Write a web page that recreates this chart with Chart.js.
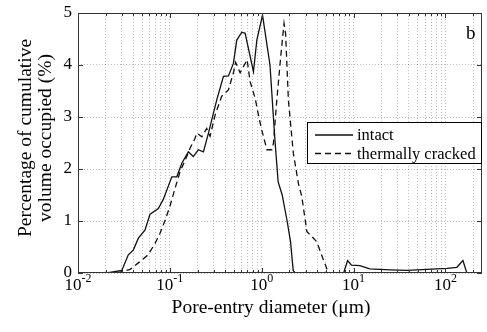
<!DOCTYPE html>
<html>
<head>
<meta charset="utf-8">
<script src="https://cdn.jsdelivr.net/npm/chart.js@4"></script>
<style>
  html, body { margin: 0; padding: 0; background: #fff; }
  #poreChart { display: block; }
</style>
</head>
<body>
<canvas id="poreChart" width="487" height="332"></canvas>
<script>
// pore-entry diameter (um) and percentage of cumulative volume
const intactDiam = [0.0206, 0.030, 0.0353, 0.040, 0.0454, 0.0537, 0.0608, 0.075, 0.085, 0.105, 0.119, 0.135, 0.159, 0.18, 0.204, 0.232, 0.263, 0.324, 0.383, 0.434, 0.492, 0.535, 0.607, 0.66, 0.813, 0.885, 1.02, 1.23, 1.34, 1.40, 1.51, 1.67, 1.89, 2.06, 2.20, 2.31, 7.8, 8.6, 9.5, 11.7, 15, 25, 38, 63, 104, 133, 155, 171];
const intactPct = [0, 0.05, 0.35, 0.44, 0.67, 0.83, 1.13, 1.24, 1.42, 1.85, 1.85, 2.11, 2.33, 2.24, 2.37, 2.33, 2.69, 3.33, 3.78, 3.79, 4.03, 4.48, 4.63, 4.61, 3.87, 4.48, 4.96, 4.0, 3.0, 2.5, 1.75, 1.5, 1.0, 0.6, 0.05, 0, 0, 0.24, 0.15, 0.14, 0.08, 0.06, 0.05, 0.07, 0.09, 0.11, 0.24, 0];

const crackedDiam = [0.0206, 0.025, 0.031, 0.037, 0.045, 0.058, 0.069, 0.078, 0.089, 0.1, 0.114, 0.129, 0.147, 0.166, 0.188, 0.196, 0.223, 0.252, 0.274, 0.311, 0.367, 0.434, 0.492, 0.52, 0.582, 0.66, 0.693, 0.748, 0.848, 0.921, 1.0, 1.09, 1.14, 1.29, 1.34, 1.46, 1.61, 1.75, 1.82, 1.95, 2.21, 2.51, 2.73, 3.10, 3.51, 3.98, 4.70, 5.33, 171];
const crackedPct = [0, 0, 0.03, 0.07, 0.19, 0.35, 0.57, 0.76, 1.02, 1.28, 1.63, 1.95, 2.17, 2.40, 2.59, 2.69, 2.62, 2.78, 2.63, 3.04, 3.40, 3.52, 3.85, 4.05, 3.85, 4.03, 4.10, 3.68, 3.36, 3.04, 2.75, 2.5, 2.37, 2.37, 2.49, 3.33, 4.16, 4.8, 4.6, 3.33, 2.3, 1.72, 1.47, 0.8, 0.70, 0.60, 0.25, 0, 0];

const seriesLabels = ['intact', 'thermally cracked'];
const xMin = 0.01, xMax = 250;
const xDecades = [-2, -1, 0, 1, 2];
const yTickValues = [0, 1, 2, 3, 4, 5];

const serif = '"Liberation Serif", "Times New Roman", serif';

// every 1..9 x 10^n inside the axis range, for the dotted grid
const xGridValues = [];
for (let e = -2; e <= 2; e++) {
  for (let m = 1; m <= 9; m++) {
    const v = m * Math.pow(10, e);
    if (v >= xMin && v <= xMax) xGridValues.push(+v.toPrecision(3));
  }
}

const toPoints = (xs, ys) => xs.map((x, i) => ({ x: x, y: ys[i] }));

const frame = {
  id: 'frame',
  afterDatasetsDraw(chart) {
    const { ctx, chartArea: a, scales } = chart;
    const xs = scales.x, ys = scales.y;
    ctx.save();

    // axes box
    ctx.strokeStyle = '#333';
    ctx.lineWidth = 1;
    ctx.setLineDash([]);
    ctx.strokeRect(a.left + 0.5, a.top + 0.5, a.right - a.left - 1, a.bottom - a.top - 1);

    // inward ticks on the x axis (top and bottom)
    ctx.beginPath();
    xGridValues.forEach(v => {
      const px = Math.round(xs.getPixelForValue(v)) + 0.5;
      const major = Math.abs(Math.log10(v) - Math.round(Math.log10(v))) < 1e-6;
      const len = major ? 5 : 3;
      ctx.moveTo(px, a.bottom); ctx.lineTo(px, a.bottom - len);
      ctx.moveTo(px, a.top); ctx.lineTo(px, a.top + len);
    });
    // inward ticks on the y axis (left and right)
    yTickValues.forEach(v => {
      const py = Math.round(ys.getPixelForValue(v)) + 0.5;
      ctx.moveTo(a.left, py); ctx.lineTo(a.left + 5, py);
      ctx.moveTo(a.right, py); ctx.lineTo(a.right - 5, py);
    });
    ctx.stroke();

    // y tick labels
    ctx.fillStyle = '#000';
    ctx.font = '17px ' + serif;
    ctx.textAlign = 'right';
    ctx.textBaseline = 'middle';
    yTickValues.forEach(v => {
      ctx.fillText(String(v), a.left - 6, ys.getPixelForValue(v));
    });

    // x tick labels: 10 with a raised exponent
    ctx.textBaseline = 'alphabetic';
    ctx.textAlign = 'left';
    xDecades.forEach(e => {
      const px = xs.getPixelForValue(Math.pow(10, e));
      ctx.font = '17px ' + serif;
      const wBase = ctx.measureText('10').width;
      ctx.font = '12px ' + serif;
      const exp = e < 0 ? '-' + Math.abs(e) : String(e);
      const wExp = ctx.measureText(exp).width;
      const x0 = px - (wBase + wExp) / 2;
      ctx.font = '17px ' + serif;
      ctx.fillText('10', x0, a.bottom + 17);
      ctx.font = '12px ' + serif;
      ctx.fillText(exp, x0 + wBase, a.bottom + 9);
    });

    // axis titles
    ctx.font = '19.5px ' + serif;
    ctx.textAlign = 'center';
    ctx.textBaseline = 'middle';
    ctx.fillText('Pore-entry diameter (\u03bcm)', (a.left + a.right) / 2 - 9, 308);

    ctx.save();
    ctx.translate(26, 138);
    ctx.rotate(-Math.PI / 2);
    ctx.fillText('Percentage of cumulative', 0, 0);
    ctx.restore();
    ctx.save();
    ctx.translate(46, 138);
    ctx.rotate(-Math.PI / 2);
    ctx.fillText('volume occupied (%)', 0, 0);
    ctx.restore();

    // panel letter
    ctx.font = '19px ' + serif;
    ctx.textAlign = 'left';
    ctx.textBaseline = 'alphabetic';
    ctx.fillText('b', 466, 39);

    // legend box
    const lx = 307, ly = 122, lw = a.right - lx, lh = 42;
    ctx.fillStyle = '#fff';
    ctx.fillRect(lx, ly, lw, lh);
    ctx.strokeStyle = '#000';
    ctx.lineWidth = 1;
    ctx.strokeRect(lx + 0.5, ly + 0.5, lw - 1, lh - 1);
    chart.data.datasets.forEach((ds, i) => {
      const cy = ly + 13 + i * 18.5;
      ctx.strokeStyle = ds.borderColor;
      ctx.lineWidth = ds.borderWidth;
      ctx.setLineDash(ds.borderDash || []);
      ctx.beginPath();
      ctx.moveTo(315, cy); ctx.lineTo(353, cy);
      ctx.stroke();
      ctx.setLineDash([]);
      ctx.fillStyle = '#000';
      ctx.font = '16.5px ' + serif;
      ctx.textBaseline = 'middle';
      ctx.fillText(ds.label, 357, cy + 1);
    });

    ctx.restore();
  }
};

new Chart(document.getElementById('poreChart'), {
  type: 'scatter',
  data: {
    datasets: [{
      label: seriesLabels[0],
      data: toPoints(intactDiam, intactPct),
      showLine: true,
      borderColor: '#111',
      borderWidth: 1.3,
      pointRadius: 0,
      tension: 0
    }, {
      label: seriesLabels[1],
      data: toPoints(crackedDiam, crackedPct),
      showLine: true,
      borderColor: '#111',
      borderWidth: 1.3,
      borderDash: [6, 4],
      pointRadius: 0,
      tension: 0
    }]
  },
  plugins: [frame],
  options: {
    responsive: false,
    animation: false,
    devicePixelRatio: 1,
    layout: { padding: { left: 78, right: 5, top: 13, bottom: 59 } },
    plugins: { legend: { display: false }, tooltip: { enabled: false } },
    scales: {
      x: {
        type: 'logarithmic',
        min: xMin,
        max: xMax,
        afterBuildTicks: (scale) => { scale.ticks = xGridValues.map(v => ({ value: v })); },
        ticks: { display: false },
        grid: { color: 'rgba(0,0,0,0.25)', drawTicks: false, lineWidth: 1 },
        border: { display: false, dash: [1, 2] }
      },
      y: {
        min: 0,
        max: 5,
        afterBuildTicks: (scale) => { scale.ticks = yTickValues.map(v => ({ value: v })); },
        ticks: { display: false },
        grid: { color: 'rgba(0,0,0,0.25)', drawTicks: false, lineWidth: 1 },
        border: { display: false, dash: [1, 2] }
      }
    }
  }
});
</script>
</body>
</html>
